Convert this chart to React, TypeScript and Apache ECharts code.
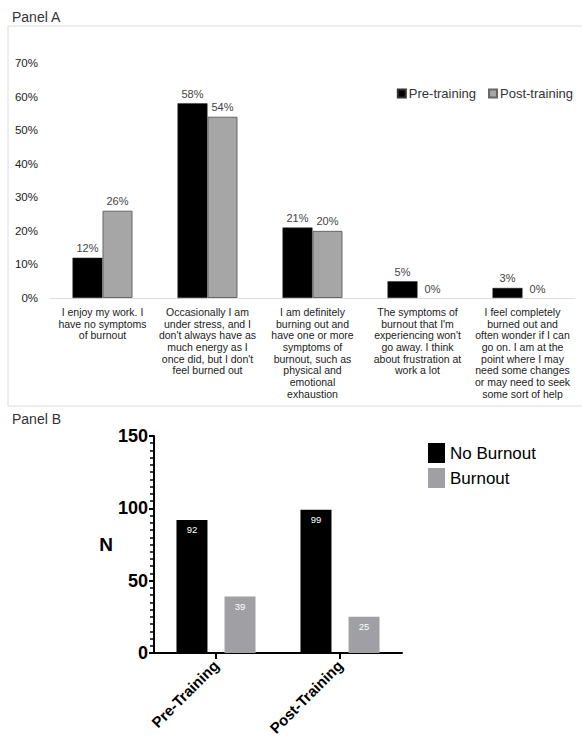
import React, { useEffect, useRef } from "react";
import * as echarts from "echarts";

const categoriesA = [
  "I enjoy my work. I\nhave no symptoms\nof burnout",
  "Occasionally I am\nunder stress, and I\ndon't always have as\nmuch energy as I\nonce did, but I don't\nfeel burned out",
  "I am definitely\nburning out and\nhave one or more\nsymptoms of\nburnout, such as\nphysical and\nemotional\nexhaustion",
  "The symptoms of\nburnout that I'm\nexperiencing won't\ngo away. I think\nabout frustration at\nwork a lot",
  "I feel completely\nburned out and\noften wonder if I can\ngo on. I am at the\npoint where I may\nneed some changes\nor may need to seek\nsome sort of help",
];
const preTraining = [12, 58, 21, 5, 3];
const postTraining = [26, 54, 20, 0, 0];

const categoriesB = ["Pre-Training", "Post-Training"];
const noBurnout = [92, 99];
const burnout = [39, 25];

const FONT = "'Liberation Sans', Arial, Helvetica, sans-serif";

const withZeroBorder = (arr: number[]) =>
  arr.map((v) => (v === 0 ? { value: v, itemStyle: { borderWidth: 0 } } : v));

export default function App() {
  const ref = useRef<HTMLDivElement>(null);
  useEffect(() => {
    document.body.style.margin = "0";
    if (!ref.current) return;
    const chart = echarts.init(ref.current, null, { renderer: "svg" });
    chart.setOption({
      animation: false,
      backgroundColor: "#fff",
      textStyle: { fontFamily: FONT },
      graphic: [
        {
          type: "rect",
          shape: { x: 8, y: 26, width: 580, height: 380 },
          style: { fill: "none", stroke: "#dcdcdc", lineWidth: 1 },
          silent: true,
        },
        {
          type: "text",
          left: 12,
          top: 10,
          style: { text: "Panel A", fontSize: 14, fill: "#333", fontFamily: FONT },
        },
        {
          type: "text",
          left: 12,
          top: 412,
          style: { text: "Panel B", fontSize: 14, fill: "#333", fontFamily: FONT },
        },
      ],
      legend: [
        {
          data: ["Pre-training", "Post-training"],
          right: 4,
          top: 82,
          itemWidth: 8,
          itemHeight: 8,
          itemGap: 12,
          icon: "rect",
          textStyle: { fontSize: 13, color: "#333", fontFamily: FONT, padding: [0, 0, 0, -2] },
        },
        {
          data: ["No Burnout", "Burnout"],
          left: 423,
          top: 438,
          orient: "vertical",
          itemWidth: 17,
          itemHeight: 20,
          itemGap: 5,
          icon: "rect",
          textStyle: { fontSize: 17, color: "#000", fontFamily: FONT },
        },
      ],
      grid: [
        { left: 50, right: 7, top: 63, height: 235 },
        { left: 154, top: 436, width: 248, height: 217 },
      ],
      xAxis: [
        {
          type: "category",
          gridIndex: 0,
          data: categoriesA,
          axisLine: { lineStyle: { color: "#ddd", width: 1 } },
          axisTick: { show: false },
          axisLabel: {
            interval: 0,
            fontSize: 10.5,
            lineHeight: 11.7,
            color: "#222",
            margin: 8,
            fontFamily: FONT,
          },
        },
        {
          type: "category",
          gridIndex: 1,
          data: categoriesB,
          axisLine: { lineStyle: { color: "#000", width: 2 } },
          axisTick: { show: true, alignWithLabel: true, length: 6, lineStyle: { color: "#000", width: 2 } },
          axisLabel: {
            interval: 0,
            rotate: 45,
            fontSize: 15,
            fontWeight: "bold",
            color: "#000",
            margin: 10,
            fontFamily: FONT,
          },
        },
      ],
      yAxis: [
        {
          type: "value",
          gridIndex: 0,
          min: 0,
          max: 70,
          interval: 10,
          axisLine: { show: false },
          axisTick: { show: false },
          splitLine: { show: false },
          axisLabel: {
            formatter: "{value}%",
            fontSize: 11.5,
            color: "#222",
            margin: 12,
            fontFamily: FONT,
          },
        },
        {
          type: "value",
          gridIndex: 1,
          min: 0,
          max: 150,
          interval: 50,
          name: "N",
          nameLocation: "middle",
          nameRotate: 0,
          nameGap: 40,
          nameTextStyle: { fontSize: 19, fontWeight: "bold", color: "#000", fontFamily: FONT },
          axisLine: { show: true, lineStyle: { color: "#000", width: 2 } },
          axisTick: { show: true, length: 5, lineStyle: { color: "#000", width: 2 } },
          minorTick: { show: true, splitNumber: 10, length: 4, lineStyle: { color: "#000", width: 1.5 } },
          splitLine: { show: false },
          axisLabel: {
            fontSize: 18,
            fontWeight: "bold",
            color: "#000",
            margin: 6,
            fontFamily: FONT,
          },
        },
      ],
      series: [
        {
          name: "Pre-training",
          type: "bar",
          xAxisIndex: 0,
          yAxisIndex: 0,
          data: withZeroBorder(preTraining),
          barWidth: 30,
          barGap: "0%",
          itemStyle: { color: "#000", borderColor: "#333", borderWidth: 0.5 },
          label: {
            show: true,
            position: "top",
            formatter: "{c}%",
            fontSize: 11,
            color: "#444",
            distance: 4,
            fontFamily: FONT,
          },
        },
        {
          name: "Post-training",
          type: "bar",
          xAxisIndex: 0,
          yAxisIndex: 0,
          data: withZeroBorder(postTraining),
          barWidth: 30,
          barGap: "0%",
          itemStyle: { color: "#a6a6a6", borderColor: "#666", borderWidth: 1 },
          label: {
            show: true,
            position: "top",
            formatter: "{c}%",
            fontSize: 11,
            color: "#444",
            distance: 4,
            fontFamily: FONT,
          },
        },
        {
          name: "No Burnout",
          type: "bar",
          xAxisIndex: 1,
          yAxisIndex: 1,
          data: noBurnout,
          barWidth: 31,
          barGap: "55%",
          itemStyle: { color: "#000" },
          label: {
            show: true,
            position: "insideTop",
            fontSize: 9.5,
            color: "#fff",
            distance: 5,
            fontFamily: FONT,
          },
        },
        {
          name: "Burnout",
          type: "bar",
          xAxisIndex: 1,
          yAxisIndex: 1,
          data: burnout,
          barWidth: 31,
          barGap: "55%",
          itemStyle: { color: "#a0a0a4" },
          label: {
            show: true,
            position: "insideTop",
            fontSize: 9.5,
            color: "#fff",
            distance: 5,
            fontFamily: FONT,
          },
        },
      ],
    });
    return () => chart.dispose();
  }, []);
  return <div ref={ref} style={{ width: 582, height: 742 }} />;
}
